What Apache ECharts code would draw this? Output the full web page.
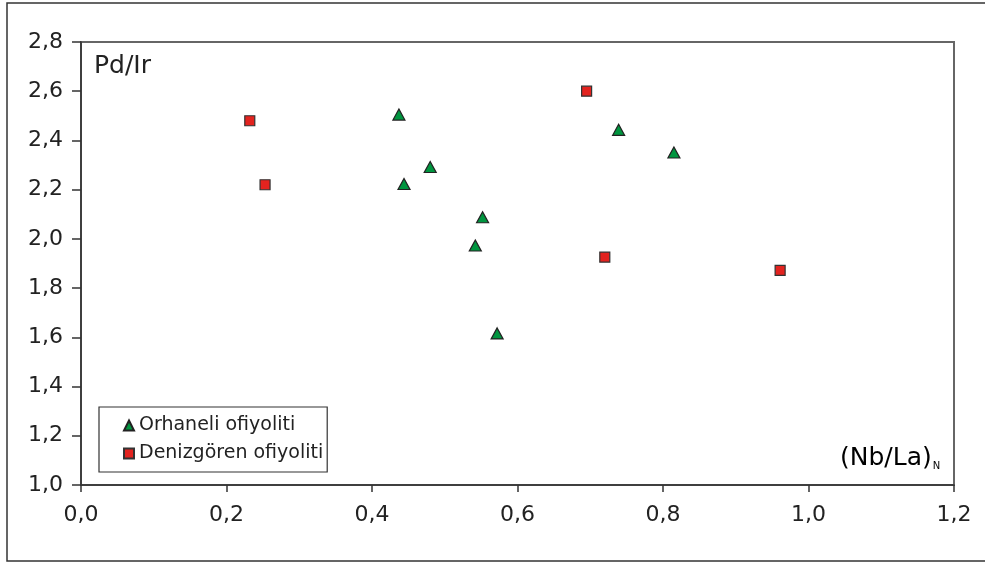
<!DOCTYPE html>
<html>
<head>
<meta charset="utf-8">
<script src="https://cdn.jsdelivr.net/npm/echarts@6/dist/echarts.min.js"></script>
<style>
  html, body { margin: 0; padding: 0; background: #fff; }
  #chart { width: 985px; height: 563px; }
</style>
</head>
<body>
<div id="chart"></div>
<script>
// (Nb/La)N vs Pd/Ir for the two ophiolite suites
const seriesNames = ['Orhaneli ofiyoliti', 'Denizgören ofiyoliti'];
const orhaneli = [
  [0.437, 2.505], [0.444, 2.223], [0.480, 2.292], [0.739, 2.443],
  [0.815, 2.351], [0.552, 2.088], [0.542, 1.973], [0.572, 1.616]
];
const denizgoren = [
  [0.232, 2.480], [0.253, 2.220], [0.695, 2.600], [0.720, 1.926], [0.961, 1.872]
];
const xTicks = [0.0, 0.2, 0.4, 0.6, 0.8, 1.0, 1.2];
const yTicks = [1.0, 1.2, 1.4, 1.6, 1.8, 2.0, 2.2, 2.4, 2.6, 2.8];

const FONT = 'DejaVu Sans';
const TXT = '#222';
const fmt = v => v.toFixed(1).replace('.', ',');

const chart = echarts.init(document.getElementById('chart'), null, { renderer: 'canvas' });

chart.setOption({
  animation: false,
  backgroundColor: '#fff',
  grid: {
    left: 81, top: 42, right: 31, bottom: 78,
    show: true, borderColor: '#666', borderWidth: 2, backgroundColor: 'transparent'
  },
  xAxis: {
    type: 'value',
    min: xTicks[0], max: xTicks[xTicks.length - 1], interval: 0.2,
    splitLine: { show: false },
    axisLine: { show: true, onZero: false, lineStyle: { color: '#333', width: 1.5 } },
    axisTick: { show: true, inside: false, length: 7, lineStyle: { color: '#333', width: 1.5 } },
    axisLabel: { margin: 19, color: TXT, fontFamily: FONT, fontSize: 22, formatter: fmt }
  },
  yAxis: {
    type: 'value',
    min: yTicks[0], max: yTicks[yTicks.length - 1], interval: 0.2,
    splitLine: { show: false },
    axisLine: { show: true, onZero: false, lineStyle: { color: '#333', width: 1.5 } },
    axisTick: { show: true, inside: false, length: 9, lineStyle: { color: '#333', width: 1.5 } },
    axisLabel: { margin: 18, color: TXT, fontFamily: FONT, fontSize: 22, formatter: fmt }
  },
  legend: {
    orient: 'vertical',
    left: 99, top: 407,
    padding: [9, 4, 9, 24],
    itemGap: 9,
    itemWidth: 10, itemHeight: 10,
    borderColor: '#333', borderWidth: 1.2,
    backgroundColor: '#fff',
    textStyle: { fontFamily: FONT, fontSize: 19, color: TXT },
    data: seriesNames
  },
  series: [
    {
      name: seriesNames[0],
      type: 'scatter',
      symbol: 'triangle',
      symbolSize: [12, 11],
      itemStyle: { color: '#00953f', borderColor: '#222', borderWidth: 1.2, opacity: 1 },
      data: orhaneli
    },
    {
      name: seriesNames[1],
      type: 'scatter',
      symbol: 'rect',
      symbolSize: 10,
      itemStyle: { color: '#e3231f', borderColor: '#333', borderWidth: 1.2, opacity: 1 },
      data: denizgoren
    }
  ],
  graphic: [
    {
      type: 'rect',
      shape: { x: 7, y: 3, width: 1000, height: 558 },
      style: { fill: 'none', stroke: '#333', lineWidth: 1.5 },
      silent: true
    },
    {
      type: 'text',
      left: 94, top: 54,
      style: { text: 'Pd/Ir', fontFamily: FONT, fontSize: 25, fill: TXT }
    },
    {
      type: 'text',
      left: 840, top: 446,
      style: {
        text: '{a|(Nb/La)}{s|N}',
        rich: {
          a: { fontFamily: FONT, fontSize: 25, color: TXT },
          s: { fontFamily: FONT, fontSize: 10, color: '#555', padding: [15, 0, 0, 1] }
        }
      }
    }
  ]
});
</script>
</body>
</html>
